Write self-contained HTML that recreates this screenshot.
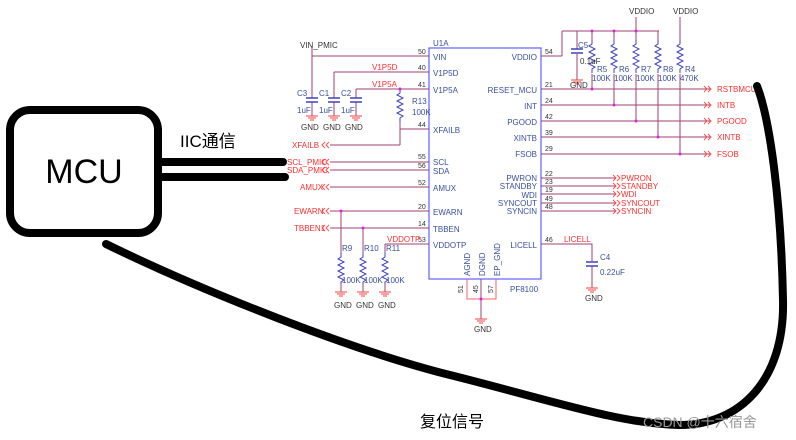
<!DOCTYPE html>
<html><head><meta charset="utf-8"><style>
html,body{margin:0;padding:0;background:#fff;}
svg{display:block;}
.t{font-family:"Liberation Sans",sans-serif;font-size:8px;}
.b{fill:#3a4fa0}.r{fill:#ff3030}.k{fill:#333}
</style></head><body>
<svg width="796" height="440" viewBox="0 0 796 440" xmlns="http://www.w3.org/2000/svg">
<defs>
<g id="gnd"><line x1="0" y1="0" x2="0" y2="8" stroke="#a04070"/><line x1="-6" y1="8" x2="6" y2="8" stroke="#ff4040"/><line x1="-4" y1="10" x2="4" y2="10" stroke="#ff4040"/><line x1="-2" y1="12" x2="2" y2="12" stroke="#ff4040"/></g>
<g id="res"><polyline points="0,0 0,4 -3,6 3,9 -3,12 3,15 -3,18 3,21 -3,24 3,27 0,29 0,33" fill="none" stroke="#4040c0" stroke-width="1"/></g>
<g id="cap"><line x1="-6" y1="0" x2="6" y2="0" stroke="#4040c0" stroke-width="1.5"/><line x1="-6" y1="4" x2="6" y2="4" stroke="#4040c0" stroke-width="1.5"/></g>
<g id="arr"><polyline points="0,-3 3,0 0,3" fill="none" stroke="#ff5050"/><polyline points="4,-3 7,0 4,3" fill="none" stroke="#ff5050"/></g>
<g id="arl"><polyline points="7,-3 4,0 7,3" fill="none" stroke="#ff5050"/><polyline points="3,-3 0,0 3,3" fill="none" stroke="#ff5050"/></g>
</defs>
<!-- IC -->
<rect x="429" y="48" width="112" height="231" fill="none" stroke="#6060ff" stroke-width="1.2"/>
<text x="433" y="46" class="t b">U1A</text>
<text x="510" y="292" class="t b">PF8100</text>
<g stroke="#a04070" stroke-width="1" fill="none">
<!-- left pins -->
<line x1="312" y1="56" x2="429" y2="56"/>
<line x1="334" y1="72" x2="429" y2="72"/>
<line x1="356" y1="89" x2="429" y2="89"/>
<line x1="400" y1="129" x2="429" y2="129"/>
<line x1="330" y1="145" x2="400" y2="145"/>
<line x1="400" y1="122" x2="400" y2="145"/>
<line x1="330" y1="162" x2="429" y2="162"/>
<line x1="330" y1="170" x2="429" y2="170"/>
<line x1="330" y1="187" x2="429" y2="187"/>
<line x1="330" y1="211" x2="429" y2="211"/>
<line x1="330" y1="228" x2="429" y2="228"/>
<line x1="385" y1="244" x2="429" y2="244"/>
<line x1="312" y1="46" x2="312" y2="98"/><line x1="334" y1="72" x2="334" y2="98"/><line x1="356" y1="89" x2="356" y2="98"/>
<line x1="312" y1="102" x2="312" y2="110"/><line x1="334" y1="102" x2="334" y2="110"/><line x1="356" y1="102" x2="356" y2="110"/>
<line x1="341" y1="211" x2="341" y2="253"/><line x1="363" y1="228" x2="363" y2="253"/><line x1="385" y1="244" x2="385" y2="253"/>
<!-- bottom gnd pins -->
<polyline points="467,279 467,299 496,299 496,279" stroke="#ff6060"/>
<line x1="481" y1="279" x2="481" y2="299"/>
<line x1="481" y1="299" x2="481" y2="317"/>
<!-- right pins -->
<line x1="541" y1="56" x2="562" y2="56"/><line x1="562" y1="56" x2="562" y2="31"/><line x1="562" y1="31" x2="659" y2="31"/>
<line x1="541" y1="89" x2="710" y2="89"/>
<line x1="541" y1="105" x2="710" y2="105"/>
<line x1="541" y1="121" x2="710" y2="121"/>
<line x1="541" y1="137" x2="710" y2="137"/>
<line x1="541" y1="154" x2="710" y2="154"/>
<line x1="541" y1="178" x2="616" y2="178"/>
<line x1="541" y1="186" x2="616" y2="186"/>
<line x1="541" y1="194" x2="616" y2="194"/>
<line x1="541" y1="203" x2="616" y2="203"/>
<line x1="541" y1="211" x2="616" y2="211"/>
<polyline points="541,244 592,244 592,261"/><line x1="592" y1="266" x2="592" y2="285"/>
<line x1="577" y1="31" x2="577" y2="49"/><line x1="577" y1="54" x2="577" y2="72"/>
<line x1="592" y1="31" x2="592" y2="40"/><line x1="592" y1="74" x2="592" y2="89"/>
<line x1="614" y1="31" x2="614" y2="40"/><line x1="614" y1="74" x2="614" y2="105"/>
<line x1="636" y1="17" x2="636" y2="40"/><line x1="636" y1="74" x2="636" y2="121"/>
<line x1="658" y1="31" x2="658" y2="40"/><line x1="658" y1="74" x2="658" y2="137"/>
<line x1="680" y1="17" x2="680" y2="40"/><line x1="680" y1="74" x2="680" y2="154"/>
</g>
<use href="#res" x="400" y="89"/>
<use href="#res" x="341" y="253"/><use href="#res" x="363" y="253"/><use href="#res" x="385" y="253"/>
<use href="#res" x="592" y="40"/><use href="#res" x="614" y="40"/><use href="#res" x="636" y="40"/><use href="#res" x="658" y="40"/><use href="#res" x="680" y="40"/>
<use href="#cap" x="312" y="98"/><use href="#cap" x="334" y="98"/><use href="#cap" x="356" y="98"/>
<use href="#cap" x="577" y="49"/><use href="#cap" x="592" y="262"/>
<use href="#gnd" x="312" y="108"/><use href="#gnd" x="334" y="108"/><use href="#gnd" x="356" y="108"/>
<use href="#gnd" x="341" y="284"/><use href="#gnd" x="363" y="284"/><use href="#gnd" x="385" y="284"/>
<use href="#gnd" x="481" y="311"/><use href="#gnd" x="577" y="72"/><use href="#gnd" x="592" y="280"/>
<!-- net arrows -->
<use href="#arl" x="322" y="145"/><use href="#arl" x="322" y="162"/><use href="#arl" x="322" y="170"/><use href="#arl" x="322" y="187"/><use href="#arl" x="322" y="211"/><use href="#arl" x="322" y="228"/>
<use href="#arr" x="704" y="89"/><use href="#arr" x="704" y="105"/><use href="#arr" x="704" y="121"/><use href="#arr" x="704" y="137"/><use href="#arr" x="704" y="154"/>
<use href="#arr" x="613" y="178"/><use href="#arr" x="613" y="186"/><use href="#arr" x="613" y="194"/><use href="#arr" x="613" y="203"/><use href="#arr" x="613" y="211"/>
<!-- labels -->
<g class="t k">
<text x="300" y="48">VIN_PMIC</text>
<text x="301" y="130">GND</text><text x="323" y="130">GND</text><text x="345" y="130">GND</text>
<text x="334" y="308">GND</text><text x="356" y="308">GND</text><text x="378" y="308">GND</text>
<text x="474" y="332">GND</text><text x="570" y="88">GND</text><text x="585" y="301">GND</text>
<text x="629" y="14">VDDIO</text><text x="673" y="14">VDDIO</text>
<text x="580" y="64">0.1uF</text>
<g font-size="7">
<text x="418" y="54">50</text><text x="418" y="70">40</text><text x="418" y="87">41</text><text x="418" y="127">44</text>
<text x="418" y="159">55</text><text x="418" y="168">56</text><text x="418" y="185">52</text><text x="418" y="209">20</text><text x="418" y="226">14</text><text x="418" y="242">53</text>
<text x="545" y="54">54</text><text x="545" y="87">21</text><text x="545" y="103">24</text><text x="545" y="119">42</text><text x="545" y="135">39</text><text x="545" y="151">29</text>
<text x="545" y="176">22</text><text x="545" y="184">23</text><text x="545" y="192">19</text><text x="545" y="201">49</text><text x="545" y="209">48</text><text x="545" y="242">46</text>
<text transform="translate(463,293) rotate(-90)">51</text><text transform="translate(478,293) rotate(-90)">45</text><text transform="translate(493,293) rotate(-90)">57</text>
</g>
</g>
<g class="t b">
<text x="297" y="96">C3</text><text x="319" y="96">C1</text><text x="341" y="96">C2</text>
<text x="297" y="113">1uF</text><text x="319" y="113">1uF</text><text x="341" y="113">1uF</text>
<text x="412" y="104">R13</text><text x="412" y="115">100K</text>
<text x="342" y="251">R9</text><text x="364" y="251">R10</text><text x="386" y="251">R11</text>
<text x="342" y="283">100K</text><text x="364" y="283">100K</text><text x="386" y="283">100K</text>
<text x="578" y="48">C5</text>
<text x="597" y="72">R5</text><text x="619" y="72">R6</text><text x="641" y="72">R7</text><text x="663" y="72">R8</text><text x="685" y="72">R4</text>
<text x="592" y="81">100K</text><text x="614" y="81">100K</text><text x="636" y="81">100K</text><text x="658" y="81">100K</text><text x="680" y="81">470K</text>
<text x="600" y="260">C4</text><text x="600" y="275">0.22uF</text>
<text x="433" y="60">VIN</text><text x="433" y="76">V1P5D</text><text x="433" y="93">V1P5A</text><text x="433" y="133">XFAILB</text>
<text x="433" y="165">SCL</text><text x="433" y="174">SDA</text><text x="433" y="191">AMUX</text><text x="433" y="215">EWARN</text><text x="433" y="232">TBBEN</text><text x="433" y="248">VDDOTP</text>
<g text-anchor="end"><text x="537" y="60">VDDIO</text><text x="537" y="93">RESET_MCU</text><text x="537" y="109">INT</text><text x="537" y="125">PGOOD</text><text x="537" y="141">XINTB</text><text x="537" y="157">FSOB</text>
<text x="537" y="181">PWRON</text><text x="537" y="189">STANDBY</text><text x="537" y="198">WDI</text><text x="537" y="206">SYNCOUT</text><text x="537" y="214">SYNCIN</text><text x="537" y="248">LICELL</text></g>
<text transform="translate(470,276) rotate(-90)">AGND</text><text transform="translate(485,276) rotate(-90)">DGND</text><text transform="translate(500,276) rotate(-90)">EP_GND</text>
</g>
<g class="t r">
<text x="372" y="70">V1P5D</text><text x="372" y="87">V1P5A</text>
<text x="292" y="148">XFAILB</text><text x="287" y="165">SCL_PMIC</text><text x="287" y="173">SDA_PMIC</text><text x="300" y="190">AMUX</text><text x="294" y="214">EWARN</text><text x="294" y="231">TBBEN1</text>
<text x="387" y="242">VDDOTP</text><text x="564" y="242">LICELL</text>
<text x="717" y="92">RSTBMCU</text><text x="717" y="108">INTB</text><text x="717" y="124">PGOOD</text><text x="717" y="140">XINTB</text><text x="717" y="157">FSOB</text>
<text x="621" y="181">PWRON</text><text x="621" y="189">STANDBY</text><text x="621" y="197">WDI</text><text x="621" y="206">SYNCOUT</text><text x="621" y="214">SYNCIN</text>
</g>
<!-- junction dots -->
<g fill="#e020e0"><circle cx="400" cy="89" r="1.5"/><circle cx="341" cy="211" r="1.5"/><circle cx="363" cy="228" r="1.5"/><circle cx="481" cy="299" r="1.5"/>
<circle cx="592" cy="31" r="1.5"/><circle cx="614" cy="31" r="1.5"/><circle cx="636" cy="31" r="1.5"/><circle cx="592" cy="89" r="1.5"/><circle cx="614" cy="105" r="1.5"/><circle cx="636" cy="121" r="1.5"/><circle cx="658" cy="137" r="1.5"/><circle cx="680" cy="154" r="1.5"/></g>
<!-- MCU overlay -->
<rect x="10" y="110" width="148" height="123" rx="20" fill="#fff" stroke="#000" stroke-width="8"/>
<text x="84" y="183" text-anchor="middle" font-family="Liberation Sans,sans-serif" font-size="34" fill="#000">MCU</text>
<line x1="160" y1="162" x2="283" y2="162" stroke="#000" stroke-width="8" stroke-linecap="round"/>
<line x1="160" y1="177" x2="285" y2="177" stroke="#000" stroke-width="8" stroke-linecap="round"/>
<text x="180" y="147" font-family="Liberation Sans,'Noto Sans CJK SC',sans-serif" font-size="17" fill="#000">IIC通信</text>
<path d="M106,244 C200,290 350,350 450,375 S620,424 680,425 C740,425 785,380 783,300 C781,200 770,120 757,86" fill="none" stroke="#000" stroke-width="8" stroke-linecap="round"/>
<text x="420" y="427" font-family="'Noto Sans CJK SC',sans-serif" font-size="16" fill="#000">复位信号</text>
<text x="643" y="427" font-family="Liberation Sans,'Noto Sans CJK SC',sans-serif" font-size="14" fill="#999">CSDN @十六宿舍</text>
</svg>
</body></html>
